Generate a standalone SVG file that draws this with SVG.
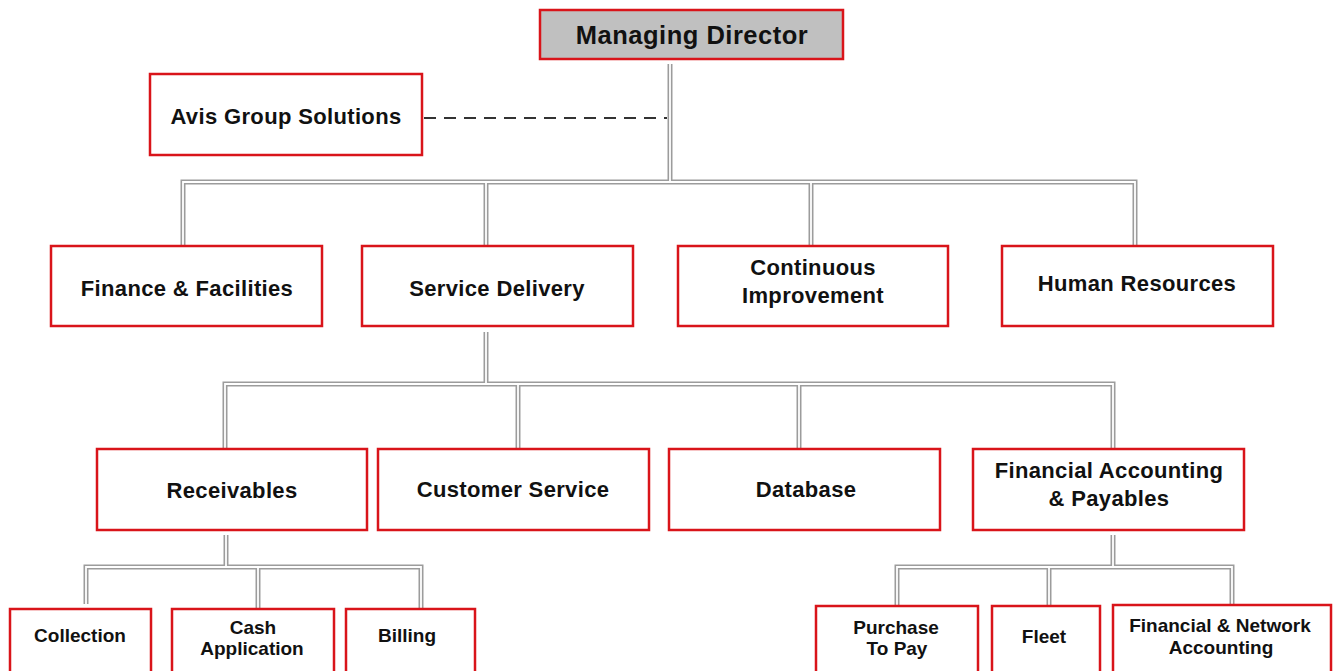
<svg xmlns="http://www.w3.org/2000/svg" xmlns:xlink="http://www.w3.org/1999/xlink" width="1334" height="671" viewBox="0 0 1334 671">
<style>
  .box { fill: #ffffff; stroke: #d9141a; stroke-width: 2.5; }
  .top { fill: #c0c0c0; }
  text { font-family: "Liberation Sans", Arial, sans-serif; font-weight: bold; fill: #111111; text-anchor: middle; }
  .t1 { font-size: 25.5px; letter-spacing: 0.5px; }
  .t2 { font-size: 22px; letter-spacing: 0.35px; }
  .t4 { font-size: 19px; }
  .outer { fill: none; stroke: #9c9c9c; stroke-width: 5; }
  .inner { fill: none; stroke: #ffffff; stroke-width: 1.8; }
  .dash { fill: none; stroke: #333333; stroke-width: 2; stroke-dasharray: 12 8; }
</style>
<defs>
  <g id="links">
    <path d="M670,64 V182"/>
    <path d="M183,246 V182 H1135 V246"/>
    <path d="M486,182 V246"/>
    <path d="M811,182 V246"/>
    <path d="M486,332 V384"/>
    <path d="M225,449 V384 H1113 V449"/>
    <path d="M518,384 V449"/>
    <path d="M799,384 V449"/>
    <path d="M226,535 V567"/>
    <path d="M86,604 V567 H421 V609"/>
    <path d="M258,567 V609"/>
    <path d="M1113,535 V567"/>
    <path d="M897,606 V567 H1232 V605"/>
    <path d="M1049,567 V606"/>
  </g>
</defs>
<rect width="1334" height="671" fill="#ffffff"/>
<g id="connectors">
  <use xlink:href="#links" href="#links" class="outer"/>
  <use xlink:href="#links" href="#links" class="inner"/>
  <path class="dash" d="M424,118 H667"/>
</g>
<g id="managing-director">
  <rect class="box top" x="540" y="10" width="303" height="49"/>
  <text class="t1" x="692" y="44">Managing Director</text>
</g>
<g id="avis-group-solutions">
  <rect class="box" x="150" y="74" width="272" height="81"/>
  <text class="t2" x="286" y="124">Avis Group Solutions</text>
</g>
<g id="finance-facilities">
  <rect class="box" x="51" y="246" width="271" height="80"/>
  <text class="t2" x="187" y="296">Finance &amp; Facilities</text>
</g>
<g id="service-delivery">
  <rect class="box" x="362" y="246" width="271" height="80"/>
  <text class="t2" x="497" y="296">Service Delivery</text>
</g>
<g id="continuous-improvement">
  <rect class="box" x="678" y="246" width="270" height="80"/>
  <text class="t2" x="813" y="275">Continuous</text>
  <text class="t2" x="813" y="303">Improvement</text>
</g>
<g id="human-resources">
  <rect class="box" x="1002" y="246" width="271" height="80"/>
  <text class="t2" x="1137" y="291">Human Resources</text>
</g>
<g id="receivables">
  <rect class="box" x="97" y="449" width="270" height="81"/>
  <text class="t2" x="232" y="498">Receivables</text>
</g>
<g id="customer-service">
  <rect class="box" x="378" y="449" width="271" height="81"/>
  <text class="t2" x="513" y="497">Customer Service</text>
</g>
<g id="database">
  <rect class="box" x="669" y="449" width="271" height="81"/>
  <text class="t2" x="806" y="497">Database</text>
</g>
<g id="financial-accounting-payables">
  <rect class="box" x="973" y="449" width="271" height="81"/>
  <text class="t2" x="1109" y="478">Financial Accounting</text>
  <text class="t2" x="1109" y="506">&amp; Payables</text>
</g>
<g id="collection">
  <rect class="box" x="10" y="609" width="141" height="75"/>
  <text class="t4" x="80" y="642">Collection</text>
</g>
<g id="cash-application">
  <rect class="box" x="172" y="609" width="162" height="75"/>
  <text class="t4" x="253" y="634">Cash</text>
  <text class="t4" x="252" y="655">Application</text>
</g>
<g id="billing">
  <rect class="box" x="346" y="609" width="129" height="75"/>
  <text class="t4" x="407" y="642">Billing</text>
</g>
<g id="purchase-to-pay">
  <rect class="box" x="816" y="606" width="162" height="75"/>
  <text class="t4" x="896" y="634">Purchase</text>
  <text class="t4" x="897" y="655">To Pay</text>
</g>
<g id="fleet">
  <rect class="box" x="992" y="606" width="108" height="75"/>
  <text class="t4" x="1044" y="643">Fleet</text>
</g>
<g id="financial-network-accounting">
  <rect class="box" x="1113" y="605" width="218" height="75"/>
  <text class="t4" x="1220" y="632">Financial &amp; Network</text>
  <text class="t4" x="1221" y="654">Accounting</text>
</g>
</svg>
